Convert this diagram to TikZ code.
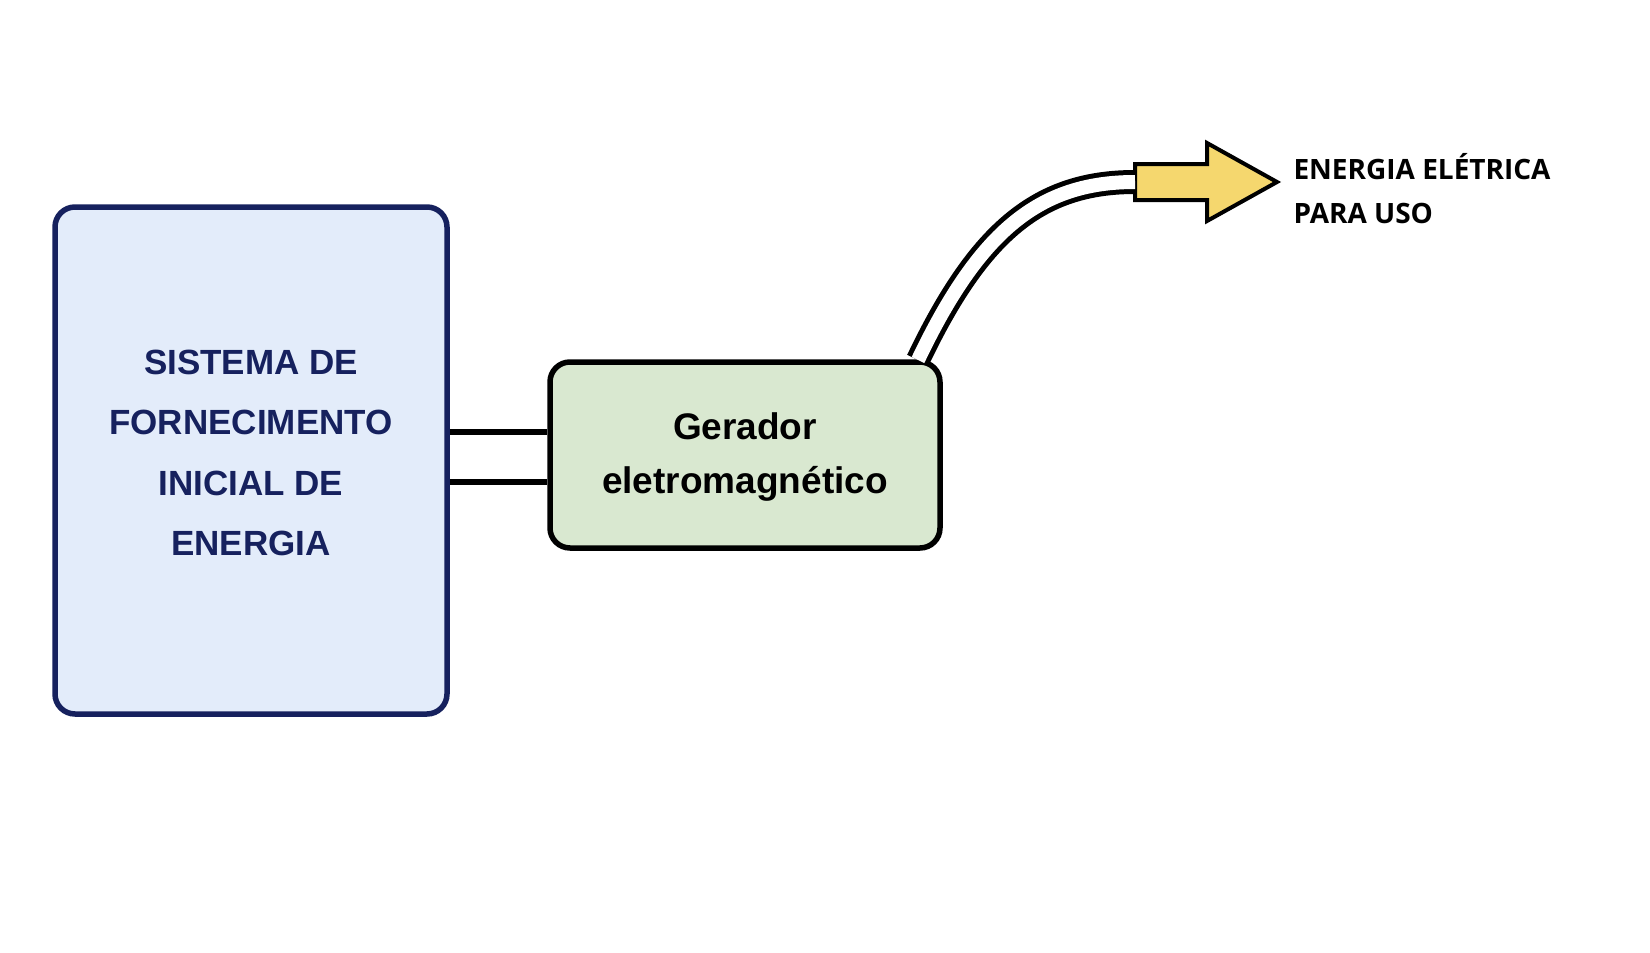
\documentclass[tikz,border=0pt]{standalone}
\usepackage{fontspec}
\setmainfont{Liberation Sans}
\newfontfamily\labfont{Open Sans}
\definecolor{navy}{HTML}{16215E}
\definecolor{bluefill}{HTML}{E3ECFA}
\definecolor{greenfill}{HTML}{D9E8D0}
\definecolor{yel}{HTML}{F5D76E}
\begin{document}
\begin{tikzpicture}[x=1pt,y=-1pt,
  box/.style={rounded corners=20pt,line width=5.5pt,inner sep=0pt},
  wire/.style={line width=5.5pt}]
\useasboundingbox[fill=white] (0,0) rectangle (1650,953);
\node[box,draw=navy,fill=bluefill,minimum width=392pt,minimum height=507pt] (sys) at (251,460.5) {};
\node[font=\bfseries\fontsize{35}{60.5}\selectfont,text=navy,align=center] (syst) at (251,453) {SISTEMA DE\\FORNECIMENTO\\INICIAL DE\\ENERGIA};
\node[box,draw=black,fill=greenfill,minimum width=390pt,minimum height=186pt] (gen) at (745,455) {};
\node[font=\bfseries\fontsize{37}{54}\selectfont,align=center] (gent) at (745,457) {Gerador\\eletromagnético};
\draw[wire] (sys.east |- 0,432) -- (gen.west |- 0,432);
\draw[wire] (sys.east |- 0,482) -- (gen.west |- 0,482);
\coordinate (tail) at (1135,182);
\draw[line width=4pt,fill=yel,line join=miter] (1135,164) -- (1207,164) -- (1207,143) -- (1277,182) -- (1207,221) -- (1207,200) -- (1135,200) -- cycle;
\draw[line width=5pt,double=white,double distance=14pt] (918,360) .. controls (980,230) and (1040,182) .. (tail);
\node[font=\labfont\bfseries\fontsize{28}{44}\selectfont,align=left,anchor=west] (lab) at (1290,189) {ENERGIA ELÉTRICA\\PARA USO};
\end{tikzpicture}
\end{document}
